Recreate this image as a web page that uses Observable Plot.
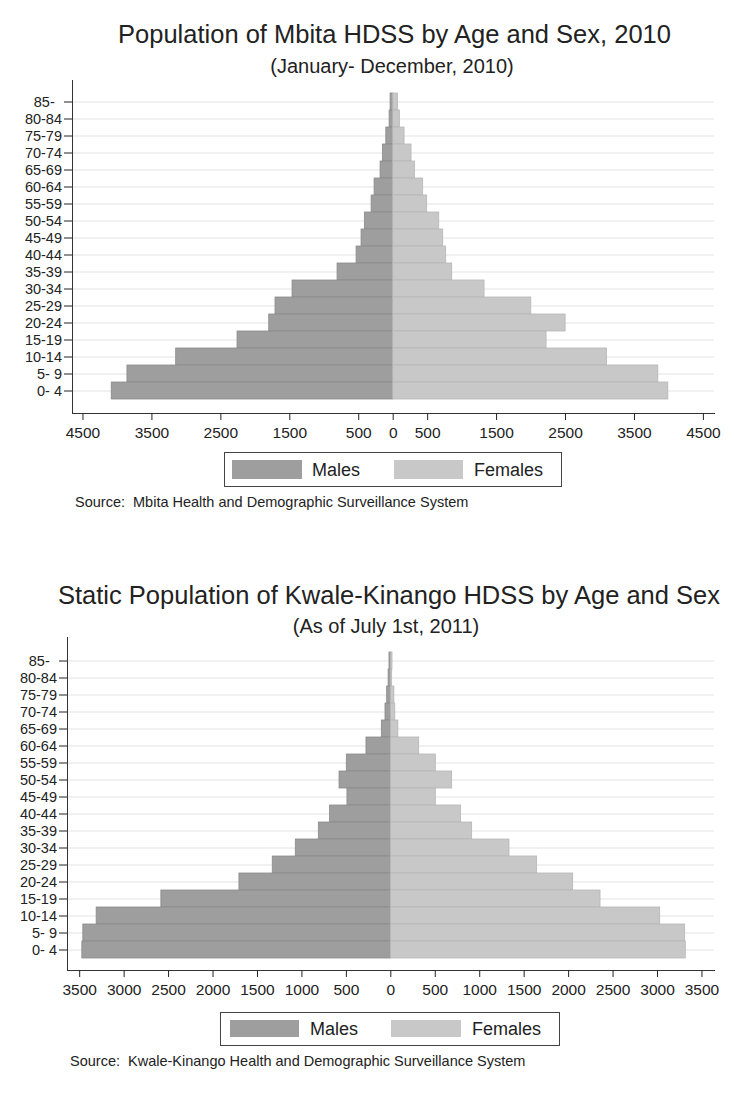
<!DOCTYPE html>
<html><head><meta charset="utf-8">
<script src="https://cdn.jsdelivr.net/npm/d3@7"></script>
<script src="https://cdn.jsdelivr.net/npm/@observablehq/plot@0.6"></script>
<style>
body{margin:0;background:#fff;font-family:"Liberation Sans",Arial,Helvetica,sans-serif;color:#222;}
#page{position:relative;width:734px;height:1093px;overflow:hidden;background:#fff;}
.t{position:absolute;white-space:pre;line-height:1;}
.box{position:absolute;border:1px solid #444;box-sizing:border-box;}
.sw{position:absolute;}
.chart{position:absolute;left:0;}
</style></head><body><div id="page"></div>
<script>
// Age groups (top to bottom)
const ages = ["85-","80-84","75-79","70-74","65-69","60-64","55-59","50-54","45-49","40-44","35-39","30-34","25-29","20-24","15-19","10-14","5- 9","0- 4"];

// Mbita HDSS 2010
const mbitaMales   = [38, 52, 100, 148, 183, 270, 313, 411, 459, 531, 807, 1460, 1707, 1798, 2258, 3148, 3855, 4083];
const mbitaFemales = [70, 97, 165, 266, 315, 435, 493, 668, 726, 769, 856, 1325, 2003, 2501, 2225, 3101, 3846, 3991];
const mbitaTicks = [-4500, -3500, -2500, -1500, -500, 0, 500, 1500, 2500, 3500, 4500];

// Kwale-Kinango HDSS 2011
const kwaleMales   = [15, 25, 41, 60, 101, 274, 495, 577, 488, 683, 810, 1069, 1328, 1703, 2581, 3309, 3459, 3470];
const kwaleFemales = [19, 15, 40, 50, 85, 319, 506, 690, 506, 791, 915, 1335, 1646, 2051, 2359, 3030, 3311, 3318];
const kwaleTicks = [-3500, -3000, -2500, -2000, -1500, -1000, -500, 0, 500, 1000, 1500, 2000, 2500, 3000, 3500];

const maleColor = "#9e9e9e", maleStroke = "#8a8a8a";
const femaleColor = "#c8c8c8", femaleStroke = "#b6b6b6";

const page = document.getElementById("page");

function addText(str, {x, baseline, size, anchor = "start"}) {
  const d = document.createElement("div");
  d.className = "t";
  d.textContent = str;
  d.style.fontSize = size + "px";
  d.style.top = (baseline - 0.8465 * size) + "px";
  d.style.left = x + "px";
  if (anchor === "middle") d.style.transform = "translateX(-50%)";
  page.appendChild(d);
}

function addLegend({left, top, width, height, mSw, fSw, swTop, swH, mText, fText, baseline}) {
  const b = document.createElement("div");
  b.className = "box";
  Object.assign(b.style, {left: left + "px", top: top + "px", width: width + "px", height: height + "px"});
  page.appendChild(b);
  for (const [x0, x1, c] of [[mSw[0], mSw[1], maleColor], [fSw[0], fSw[1], femaleColor]]) {
    const s = document.createElement("div");
    s.className = "sw";
    Object.assign(s.style, {left: x0 + "px", top: swTop + "px", width: (x1 - x0) + "px", height: swH + "px", background: c});
    page.appendChild(s);
  }
  addText("Males", {x: mText, baseline, size: 18});
  addText("Females", {x: fText, baseline, size: 18});
}

function pyramid({males, females, domain, ticks, top, marginLeft, insetTop, insetBottom}) {
  const data = ages.map((a, i) => ({age: a, m: males[i], f: females[i]}));
  const chart = Plot.plot({
    width: 734,
    height: 370,
    marginLeft,
    marginRight: 20,
    marginTop: 2,
    marginBottom: 35,
    style: {fontFamily: "'Liberation Sans', Arial, sans-serif", color: "#222", background: "transparent"},
    x: {domain},
    y: {domain: ages, padding: 0, insetTop, insetBottom},
    marks: [
      Plot.ruleY(ages, {stroke: "#ececec", strokeWidth: 1.6}),
      Plot.barX(data, {y: "age", x1: 0, x2: d => -d.m, fill: maleColor, stroke: maleStroke, strokeWidth: 0.8}),
      Plot.barX(data, {y: "age", x1: 0, x2: d => d.f, fill: femaleColor, stroke: femaleStroke, strokeWidth: 0.8}),
      Plot.frame({anchor: "left", stroke: "#333"}),
      Plot.frame({anchor: "bottom", stroke: "#333"}),
      Plot.axisY({tickSize: 8, tickPadding: 2.5, fontSize: 14.5, label: null,
        tickFormat: d => d === "85-" ? "85-\u2002" : d}),
      Plot.axisX(ticks, {tickSize: 7, tickPadding: 6, fontSize: 15.5, label: null,
        tickFormat: d => String(Math.abs(d))})
    ]
  });
  chart.classList.add("chart");
  chart.style.top = top + "px";
  page.appendChild(chart);
}

// Chart 1
addText("Population of Mbita HDSS by Age and Sex, 2010", {x: 394.5, baseline: 44, size: 25.5, anchor: "middle"});
addText("(January- December, 2010)", {x: 392, baseline: 73, size: 20, anchor: "middle"});
pyramid({males: mbitaMales, females: mbitaFemales, domain: [-4652, 4661], ticks: mbitaTicks,
  top: 78, marginLeft: 72, insetTop: 10, insetBottom: 11});
addLegend({left: 224, top: 452, width: 338, height: 35, mSw: [232, 302], fSw: [394, 463], swTop: 460, swH: 19,
  mText: 312, fText: 474, baseline: 476.5});
addText("Source:  Mbita Health and Demographic Surveillance System", {x: 75, baseline: 507, size: 14.5});

// Chart 2
addText("Static Population of Kwale-Kinango HDSS by Age and Sex", {x: 389, baseline: 605, size: 25.5, anchor: "middle"});
addText("(As of July 1st, 2011)", {x: 386, baseline: 633, size: 20, anchor: "middle"});
pyramid({males: kwaleMales, females: kwaleFemales, domain: [-3637, 3641], ticks: kwaleTicks,
  top: 635, marginLeft: 67, insetTop: 12, insetBottom: 9.7});
addLegend({left: 220, top: 1012, width: 340, height: 34, mSw: [230, 299], fSw: [391, 461], swTop: 1020, swH: 17,
  mText: 310, fText: 472, baseline: 1035});
addText("Source:  Kwale-Kinango Health and Demographic Surveillance System", {x: 70, baseline: 1066, size: 14.5});
</script>
</body></html>
